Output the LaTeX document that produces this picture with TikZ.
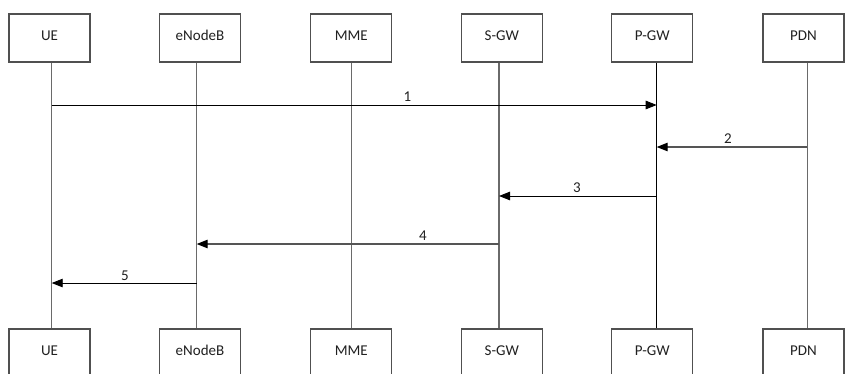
\documentclass[tikz,border=0pt]{standalone}
\usepackage{fontspec}
\setmainfont{Carlito}
\usetikzlibrary{arrows.meta}
\definecolor{boxc}{HTML}{505050}
\definecolor{lifec}{HTML}{6A6A6A}
\definecolor{msgc}{HTML}{555555}
\definecolor{txtc}{HTML}{202020}
\begin{document}
\begin{tikzpicture}[x=1pt,y=-1pt,
  ent/.style={draw=boxc,line width=1.1pt,minimum width=81pt,minimum height=48pt,inner sep=0pt,font=\fontsize{15}{17}\selectfont,text=txtc,text height=1.45ex,text depth=0.25ex},
  life/.style={draw=lifec,line width=1.2pt},
  lifeblack/.style={draw=black,line width=1pt},
  msg/.style={line width=0.9pt,-{Triangle[length=11pt,width=8.5pt]}},
  msggray/.style={line width=1.2pt,draw=msgc,-{Triangle[length=11pt,width=8.5pt,color=black]}},
  lbl/.style={font=\fontsize{15}{17}\selectfont,text=txtc,inner sep=0pt}]
\useasboundingbox (0,0) rectangle (854,373);
% top boxes
\node[ent] (ueT)  at (49.5,38) {UE};
\node[ent] (enbT) at (200,38) {eNodeB};
\node[ent] (mmeT) at (351.3,38) {MME};
\node[ent] (sgwT) at (501.8,38) {S-GW};
\node[ent] (pgwT) at (652.3,38) {P-GW};
\node[ent] (pdnT) at (803.5,38) {PDN};
% bottom boxes
\node[ent] (ueB)  at (49.5,353) {UE};
\node[ent] (enbB) at (200,353) {eNodeB};
\node[ent] (mmeB) at (351.3,353) {MME};
\node[ent] (sgwB) at (501.8,353) {S-GW};
\node[ent] (pgwB) at (652.3,353) {P-GW};
\node[ent] (pdnB) at (803.5,353) {PDN};
% lifelines
\draw[life] ([xshift=2.2pt]ueT.south) -- ([xshift=2.2pt]ueB.north);
\draw[life] ([xshift=-3.3pt]enbT.south) -- ([xshift=-3.3pt]enbB.north);
\draw[life] (mmeT.south) -- (mmeB.north);
\draw[life] ([xshift=-2.8pt]sgwT.south) -- ([xshift=-2.8pt]sgwB.north);
\draw[lifeblack] ([xshift=4.4pt]pgwT.south) -- ([xshift=4.4pt]pgwB.north);
\draw[life] ([xshift=3.8pt]pdnT.south) -- ([xshift=3.8pt]pdnB.north);
% message end points on lifelines
\coordinate (m1s) at (51.7,105);  \coordinate (m1e) at (656.7,105);
\coordinate (m2s) at (807.3,147); \coordinate (m2e) at (656.7,147);
\coordinate (m3s) at (656.7,196); \coordinate (m3e) at (499,196);
\coordinate (m4s) at (499,244);   \coordinate (m4e) at (196.7,244);
\coordinate (m5s) at (196.7,283); \coordinate (m5e) at (51.7,283);
\draw[msg] (m1s) -- (m1e);
\draw[msggray] (m2s) -- (m2e);
\draw[msg] (m3s) -- (m3e);
\draw[msggray] (m4s) -- (m4e);
\draw[msg] (m5s) -- (m5e);
% labels
\node[lbl] (l1) at (407.5,97) {1};
\node[lbl] (l2) at (728,139) {2};
\node[lbl] (l3) at (577,188) {3};
\node[lbl] (l4) at (423,236) {4};
\node[lbl] (l5) at (125,276) {5};
\end{tikzpicture}
\end{document}
